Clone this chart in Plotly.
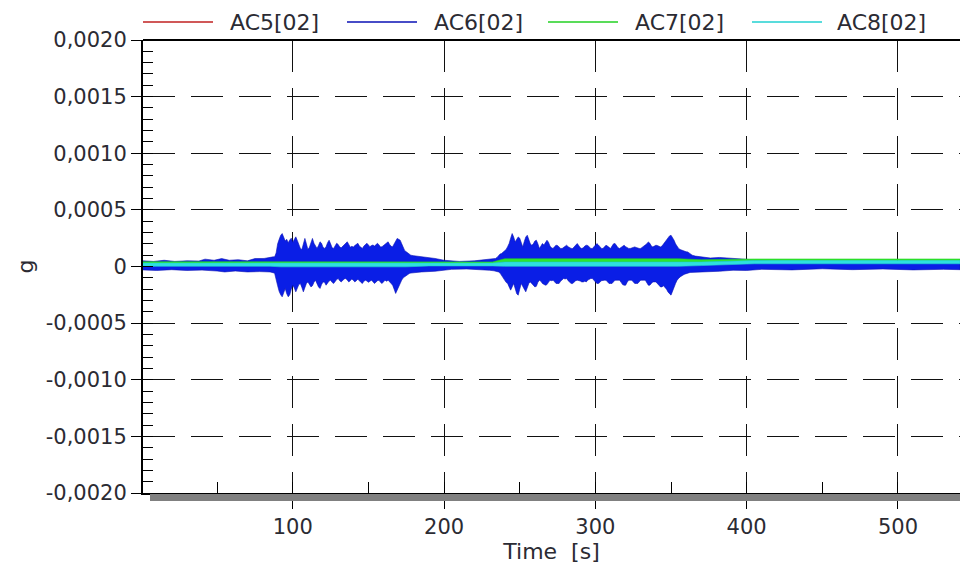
import numpy as np
import plotly.graph_objects as go

# ---------------------------------------------------------------------------
# Acceleration records, channel group [02], as min/max envelopes per time bin.
# Times in seconds, amplitudes in micro-g (converted to g when plotted).
# ---------------------------------------------------------------------------
channels = ["AC5[02]", "AC6[02]", "AC7[02]", "AC8[02]"]
colors = ["#d42a2a", "#0a1ee6", "#2ee62e", "#2ee0e0"]
edge_colors = ["#c02020", "#0a10b4", "#22d022", "#22d0d0"]

# AC5: quiet channel
ac5_t = [1, 120, 260, 400, 541]
ac5_hi = [15, 18, 18, 20, 20]
ac5_lo = [-5, -6, -4, -2, 0]

# AC6 upper envelope --------------------------------------------------------
ac6_hi_pre_t = [1, 8, 15, 22, 30, 38, 42, 48, 53, 58, 64, 70, 75, 81, 87]
ac6_hi_pre = [50, 45, 55, 45, 50, 48, 65, 55, 70, 55, 60, 50, 70, 71, 85]

ac6_hi_b1_t = list(range(88, 179))          # 1 s bins, first burst
ac6_hi_b1 = [85, 120, 200, 240, 275, 291, 260, 225, 240, 210,
             235, 250, 215, 240, 262, 230, 195, 160, 150, 210,
             248, 200, 150, 170, 220, 248, 205, 175, 160, 185,
             218, 205, 170, 160, 175, 210, 232, 200, 165, 160,
             180, 205, 195, 172, 165, 178, 190, 200, 218, 195,
             170, 178, 172, 185, 200, 205, 180, 165, 160, 180,
             195, 205, 190, 175, 185, 190, 180, 195, 205, 190,
             172, 175, 185, 200, 210, 218, 195, 178, 175, 200,
             235, 248, 240, 232, 200, 165, 140, 130, 118, 110,
             100]

ac6_hi_mid_t = [180, 186, 194, 200, 210, 220, 228, 233]
ac6_hi_mid = [95, 85, 71, 55, 45, 50, 60, 71]

ac6_hi_b2_t = list(range(234, 365))         # 1 s bins, second burst
ac6_hi_b2 = [71, 80, 95, 110, 115, 130, 144, 150, 175, 203,
             250, 291, 260, 217, 240, 261, 250, 200, 173, 220,
             260, 276, 240, 200, 188, 200, 225, 232, 200, 159,
             180, 203, 190, 210, 232, 215, 180, 165, 159, 175,
             188, 185, 170, 160, 159, 170, 185, 188, 175, 165,
             160, 159, 175, 195, 203, 185, 165, 159, 165, 180,
             188, 185, 170, 160, 159, 175, 195, 203, 190, 170,
             160, 159, 175, 188, 180, 165, 159, 180, 200, 203,
             185, 165, 159, 170, 185, 188, 175, 165, 160, 159,
             165, 172, 173, 168, 162, 159, 160, 170, 185, 188,
             200, 217, 205, 180, 173, 180, 188, 185, 175, 173,
             180, 200, 217, 235, 255, 270, 276, 255, 232, 200,
             173, 160, 150, 144, 140, 135, 130, 129, 118, 108,
             100]

ac6_hi_post_t = [366, 369, 372, 376, 382, 391, 400, 409, 420, 440, 460, 480,
                 500, 520, 541]
ac6_hi_post = [92, 85, 78, 75, 80, 70, 65, 55, 45, 42, 45, 40, 45, 42, 44]

# AC6 lower envelope --------------------------------------------------------
ac6_lo_pre_t = [1, 10, 20, 30, 40, 50, 55, 62, 70, 78, 85, 87]
ac6_lo_pre = [-30, -35, -28, -35, -32, -40, -48, -40, -48, -45, -48, -55]

ac6_lo_b1_t = list(range(88, 179))
ac6_lo_b1 = [-60, -110, -170, -220, -250, -268, -230, -195, -240, -268,
             -250, -200, -165, -190, -224, -200, -160, -150, -185, -224,
             -190, -150, -136, -160, -180, -170, -140, -121, -150, -180,
             -194, -160, -136, -140, -165, -150, -128, -121, -140, -150,
             -135, -115, -106, -125, -136, -125, -110, -106, -120, -136,
             -125, -110, -121, -136, -125, -112, -121, -140, -150, -130,
             -121, -128, -140, -130, -121, -135, -150, -140, -125, -121,
             -140, -150, -135, -121, -130, -121, -135, -150, -165, -200,
             -238, -210, -165, -150, -120, -100, -92, -80, -70, -62,
             -58]

ac6_lo_mid_t = [180, 185, 194, 205, 215, 225, 230, 233]
ac6_lo_mid = [-52, -48, -42, -25, -22, -30, -33, -38]

ac6_lo_b2_t = list(range(234, 365))
ac6_lo_b2 = [-40, -44, -48, -58, -70, -92, -120, -140, -150, -180,
             -209, -180, -150, -200, -240, -253, -200, -150, -170, -200,
             -224, -190, -150, -136, -150, -165, -180, -175, -140, -121,
             -130, -150, -160, -165, -160, -140, -121, -125, -121, -135,
             -150, -148, -150, -130, -115, -106, -110, -106, -125, -140,
             -150, -150, -140, -125, -121, -121, -128, -136, -136, -130,
             -136, -120, -110, -106, -106, -120, -135, -150, -150, -140,
             -125, -121, -121, -121, -135, -150, -150, -150, -135, -121,
             -121, -121, -121, -140, -160, -165, -165, -140, -121, -121,
             -121, -135, -150, -150, -150, -135, -121, -121, -121, -121,
             -140, -165, -165, -150, -136, -136, -136, -150, -165, -180,
             -180, -170, -180, -200, -225, -240, -253, -215, -180, -150,
             -121, -105, -92, -82, -75, -68, -62, -58, -55, -52,
             -50]

ac6_lo_post_t = [366, 371, 382, 391, 400, 410, 430, 450, 470, 490, 510, 530, 541]
ac6_lo_post = [-48, -45, -42, -33, -35, -25, -30, -20, -28, -22, -30, -25, -28]

ac6_hi_t = ac6_hi_pre_t + ac6_hi_b1_t + ac6_hi_mid_t + ac6_hi_b2_t + ac6_hi_post_t
ac6_hi = ac6_hi_pre + ac6_hi_b1 + ac6_hi_mid + ac6_hi_b2 + ac6_hi_post
ac6_lo_t = ac6_lo_pre_t + ac6_lo_b1_t + ac6_lo_mid_t + ac6_lo_b2_t + ac6_lo_post_t
ac6_lo = ac6_lo_pre + ac6_lo_b1 + ac6_lo_mid + ac6_lo_b2 + ac6_lo_post
assert len(ac6_hi_t) == len(ac6_hi) and len(ac6_lo_t) == len(ac6_lo)

# AC7 and AC8: small offsets around zero
ac78_t = [1, 85, 92, 175, 190, 232, 240, 355, 370, 405, 541]
ac7_hi = [42, 42, 45, 45, 40, 40, 68, 68, 60, 66, 66]
ac7_lo = [26, 26, 22, 22, 26, 26, 40, 40, 38, 50, 50]
ac8_hi = [30, 30, 28, 28, 30, 30, 40, 40, 40, 52, 52]
ac8_lo = [2, 2, -3, -3, 5, 5, 2, 2, 8, 24, 24]

envelopes = [
    (ac5_t, ac5_hi, ac5_t, ac5_lo),
    (ac6_hi_t, ac6_hi, ac6_lo_t, ac6_lo),
    (ac78_t, ac7_hi, ac78_t, ac7_lo),
    (ac78_t, ac8_hi, ac78_t, ac8_lo),
]

# Axis ticks
x_ticks = [100, 200, 300, 400, 500]
x_labels = ["100", "200", "300", "400", "500"]
y_ticks = [0.002, 0.0015, 0.001, 0.0005, 0, -0.0005, -0.001, -0.0015, -0.002]
y_labels = ["0,0020", "0,0015", "0,0010", "0,0005", "0",
            "-0,0005", "-0,0010", "-0,0015", "-0,0020"]
x_range = [1, 541]
y_range = [-0.002, 0.002]

FONT = "DejaVu Sans"
TEXT = "#2b2b33"
TICK_SIZE = 21
LABEL_SIZE = 22
UG = 1e-6

fig = go.Figure()
for name, col, edge, (tu, hi, tl, lo) in zip(channels, colors, edge_colors, envelopes):
    xs = list(tu) + list(tl)[::-1]
    ys = list(np.array(hi) * UG) + list(np.array(lo)[::-1] * UG)
    fig.add_trace(go.Scatter(
        x=xs, y=ys, name=name, mode="lines", fill="toself",
        fillcolor=col, line=dict(color=edge, width=0.6),
        showlegend=False, hoverinfo="skip",
    ))

# Empty trace carrying the overlay axes used for the inner half of major ticks
fig.add_trace(go.Scatter(x=[None], y=[None], xaxis="x2", yaxis="y2",
                         showlegend=False, hoverinfo="skip"))

W, H = 960, 567
ML, MR, MT, MB = 143, 0, 40, 74
PW, PH = W - ML - MR, H - MT - MB


def px_x(px):
    return (px - ML) / PW


def px_y(py):
    return (H - MB - py) / PH


grid = dict(showgrid=True, gridcolor="#111111", gridwidth=1.3, griddash="32px,16px")
tickfont = dict(family=FONT, size=TICK_SIZE, color=TEXT)
labelfont = dict(family=FONT, size=LABEL_SIZE, color=TEXT)

fig.update_layout(
    width=W, height=H,
    margin=dict(l=ML, r=MR, t=MT, b=MB, pad=0),
    paper_bgcolor="white", plot_bgcolor="white",
    showlegend=False,
    font=dict(family=FONT, size=TICK_SIZE, color=TEXT),
    xaxis=dict(
        range=x_range, tickvals=x_ticks, ticktext=x_labels,
        ticks="outside", ticklen=14, tickwidth=1.3, tickcolor="black",
        showline=True, linecolor="black", linewidth=2,
        zeroline=False, tickfont=tickfont,
        minor=dict(ticks="inside", ticklen=11, tickwidth=1.3, tickcolor="black",
                   dtick=50, tick0=0, showgrid=False),
        title=dict(text="Time\u00a0\u00a0[s]", font=labelfont, standoff=2),
        automargin=False,
        **grid,
    ),
    yaxis=dict(
        range=y_range, tickvals=y_ticks, ticktext=y_labels,
        ticks="outside", ticklen=10, tickwidth=1.3, tickcolor="black",
        showline=True, linecolor="black", linewidth=2,
        zeroline=False, tickfont=tickfont,
        minor=dict(ticks="inside", ticklen=10, tickwidth=1.3, tickcolor="black",
                   dtick=0.0001, tick0=0, showgrid=False),
        title=dict(text="g", font=labelfont, standoff=6),
        automargin=False,
        **grid,
    ),
    xaxis2=dict(
        overlaying="x", anchor="y", range=x_range, tickvals=x_ticks,
        ticks="inside", ticklen=10, tickwidth=1.3, tickcolor="black",
        showticklabels=False, showgrid=False, zeroline=False, showline=False,
    ),
    yaxis2=dict(
        overlaying="y", anchor="x", range=y_range, tickvals=y_ticks,
        ticks="inside", ticklen=10, tickwidth=1.3, tickcolor="black",
        showticklabels=False, showgrid=False, zeroline=False, showline=False,
    ),
)

# Frame line along the top and the grey band under the time axis
fig.add_shape(type="line", xref="paper", yref="paper", x0=0, x1=1, y0=1, y1=1,
              line=dict(color="black", width=2))
fig.add_shape(type="rect", xref="paper", yref="paper",
              x0=px_x(150), x1=1, y0=px_y(501), y1=px_y(494),
              fillcolor="#808080", line=dict(width=0), layer="above")

# Legend row: long line samples with channel names
legend_line_x = [143, 347, 548, 752]
legend_text_x = [228, 432, 633, 835]
for name, col, lx, tx in zip(channels, edge_colors, legend_line_x, legend_text_x):
    fig.add_shape(type="line", xref="paper", yref="paper",
                  x0=px_x(lx), x1=px_x(lx + 70), y0=px_y(22), y1=px_y(22),
                  line=dict(color=col, width=1.6))
    fig.add_annotation(text=name, xref="paper", yref="paper",
                       x=px_x(tx), y=px_y(22), xanchor="left", yanchor="middle",
                       showarrow=False, font=labelfont)

fig.write_html("out.html")
